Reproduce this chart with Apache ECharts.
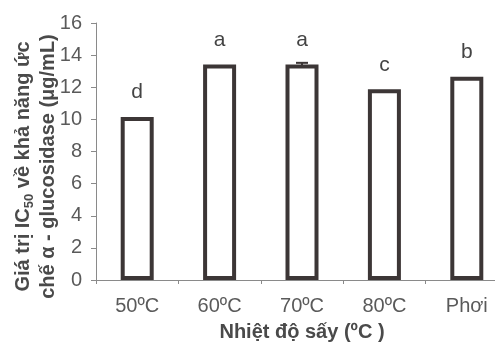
<!DOCTYPE html>
<html>
<head>
<meta charset="utf-8">
<script src="https://cdn.jsdelivr.net/npm/echarts@6/dist/echarts.min.js"></script>
<style>
    html, body { margin: 0; padding: 0; background: #fff; }
    #chart { width: 495px; height: 345px; }
</style>
</head>
<body>
<div id="chart"></div>
<script>
var categories = ['50ºC', '60ºC', '70ºC', '80ºC', 'Phơi'];
var ic50Values = [10.15, 13.42, 13.42, 11.87, 12.65];
var errValues = [0, 0, 0.1, 0, 0];
var sigLetters = ['d', 'a', 'a', 'c', 'b'];
var yTicks = { min: 0, max: 16, interval: 2 };

var chart = echarts.init(document.getElementById('chart'));

var option = {
    backgroundColor: '#fff',
    animation: false,
    textStyle: { fontFamily: 'Liberation Sans, Arial, sans-serif' },
    grid: {
        left: 96,
        top: 23,
        bottom: 65,
        width: 412,
        containLabel: false,
        outerBoundsMode: 'none'
    },
    xAxis: {
        type: 'category',
        data: categories,
        name: 'Nhiệt độ sấy (ºC )',
        nameLocation: 'middle',
        nameGap: 42,
        nameTextStyle: { fontSize: 20, fontWeight: 'bold', color: '#4a4a4a' },
        axisLine: { lineStyle: { color: '#8a8a8a', width: 1 } },
        axisTick: { show: true, length: 4, lineStyle: { color: '#8a8a8a' } },
        axisLabel: { fontSize: 20, color: '#5a5a5a', margin: 16 }
    },
    yAxis: {
        type: 'value',
        min: yTicks.min,
        max: yTicks.max,
        interval: yTicks.interval,
        name: '{b|Giá trị IC}{s|50}{b| về khả năng ức}\n{b|chế α - glucosidase (μg/mL)}',
        nameLocation: 'middle',
        nameRotate: 90,
        nameGap: 35,
        nameMoveOverlap: false,
        nameTextStyle: {
            color: '#4a4a4a',
            lineHeight: 25,
            padding: [0, 30, 0, 0],
            rich: {
                b: { fontSize: 20, fontWeight: 'bold', color: '#4a4a4a', lineHeight: 25 },
                s: { fontSize: 13, fontWeight: 'bold', color: '#4a4a4a', verticalAlign: 'bottom', lineHeight: 25, padding: [10, 0, 0, 0] }
            }
        },
        axisLine: { show: true, lineStyle: { color: '#8a8a8a', width: 1 } },
        axisTick: { show: true, length: 5, lineStyle: { color: '#8a8a8a' } },
        axisLabel: { fontSize: 20, color: '#5a5a5a', margin: 14 },
        splitLine: { show: false }
    },
    series: [
        {
            type: 'bar',
            data: ic50Values,
            barWidth: 33,
            itemStyle: {
                color: '#fff',
                borderColor: '#3c3636',
                borderWidth: 4
            },
            label: {
                show: true,
                position: 'top',
                distance: 14,
                fontSize: 21,
                color: '#444',
                formatter: function (p) { return sigLetters[p.dataIndex]; }
            }
        },
        {
            type: 'custom',
            data: ic50Values.map(function (v, i) { return [i, v - errValues[i], v + errValues[i]]; }),
            renderItem: function (params, api) {
                var lo = api.coord([api.value(0), api.value(1)]);
                var hi = api.coord([api.value(0), api.value(2)]);
                if (Math.abs(lo[1] - hi[1]) < 0.5) return null;
                var w = 6;
                return {
                    type: 'group',
                    children: [
                        { type: 'line', shape: { x1: hi[0], y1: hi[1], x2: lo[0], y2: lo[1] }, style: { stroke: '#3c3636', lineWidth: 2 } },
                        { type: 'line', shape: { x1: hi[0] - w, y1: hi[1], x2: hi[0] + w, y2: hi[1] }, style: { stroke: '#3c3636', lineWidth: 2 } }
                    ]
                };
            },
            z: 5
        }
    ]
};

chart.setOption(option);
</script>
</body>
</html>
